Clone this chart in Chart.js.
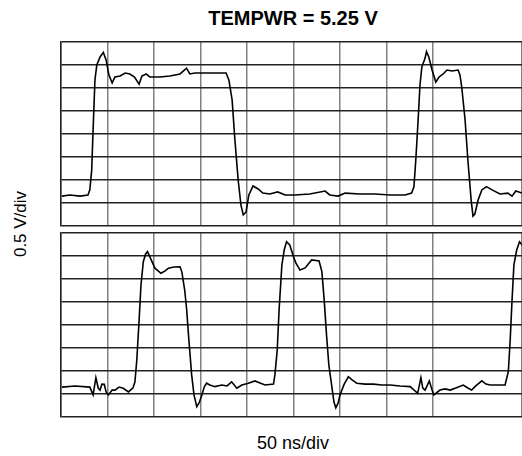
<!DOCTYPE html>
<html>
<head>
<meta charset="utf-8">
<script src="https://cdn.jsdelivr.net/npm/chart.js@4/dist/chart.umd.min.js"></script>
<style>
    body { margin: 0; background: #fff; font-family: "Liberation Sans", Arial, sans-serif; }
    #wrap { position: relative; width: 522px; height: 456px; overflow: hidden; }
    .panel { position: absolute; left: 60px; }
    #title { position: absolute; left: 0; width: 586px; top: 7px; text-align: center; font-weight: bold; font-size: 20px; color: #000; }
    #xlabel { position: absolute; left: 0; width: 586px; top: 433px; text-align: center; font-size: 18px; color: #000; }
    #ylabel { position: absolute; left: 21px; top: 224px; transform: translate(-50%, -50%) rotate(-90deg); font-size: 17px; color: #000; white-space: nowrap; }
</style>
</head>
<body>
<div id="wrap">
    <div id="title">TEMPWR = 5.25 V</div>
    <canvas id="topChart" class="panel" width="462" height="186" style="top:41px"></canvas>
    <canvas id="bottomChart" class="panel" width="462" height="186" style="top:232px"></canvas>
    <div id="ylabel">0.5 V/div</div>
    <div id="xlabel">50 ns/div</div>
</div>
<script>
// time in divisions (50 ns/div), voltage in divisions (0.5 V/div)
const topTime = [0.02, 0.19, 0.41, 0.58, 0.62, 0.66, 0.69, 0.73, 0.77, 0.84, 0.91, 0.97, 1.03, 1.10, 1.16, 1.27, 1.38, 1.48, 1.58, 1.68,
    1.74, 1.83, 1.91, 2.13, 2.34, 2.56, 2.70, 2.77, 2.88, 3.10, 3.31, 3.55, 3.61, 3.68, 3.74, 3.81, 3.87, 3.92, 3.98, 4.04,
    4.13, 4.24, 4.34, 4.49, 4.66, 4.82, 5.03, 5.35, 5.68, 5.78, 5.96, 6.11, 6.43, 6.75, 7.08, 7.40, 7.54, 7.59, 7.63, 7.68,
    7.72, 7.76, 7.83, 7.86, 7.91, 7.98, 8.06, 8.13, 8.22, 8.30, 8.41, 8.54, 8.58, 8.62, 8.69, 8.75, 8.82, 8.86, 8.90, 8.97,
    9.05, 9.15, 9.27, 9.44, 9.61, 9.70, 9.78, 9.91];
const topVolt = [1.30, 1.35, 1.30, 1.35, 1.57, 2.43, 4.17, 6.35, 7.00, 7.35, 7.55, 7.22, 6.57, 6.22, 6.48, 6.52, 6.65, 6.61, 6.48, 6.17,
    6.52, 6.61, 6.48, 6.48, 6.52, 6.61, 6.86, 6.61, 6.65, 6.65, 6.65, 6.65, 6.35, 5.48, 3.74, 2.00, 0.91, 0.48, 0.61, 1.35,
    1.74, 1.61, 1.43, 1.39, 1.48, 1.35, 1.35, 1.39, 1.52, 1.35, 1.30, 1.43, 1.39, 1.39, 1.35, 1.35, 1.43, 1.70, 2.87, 4.61,
    6.13, 6.91, 7.30, 7.58, 7.35, 6.78, 6.26, 6.48, 6.61, 6.78, 6.74, 6.78, 6.57, 6.00, 4.61, 2.87, 1.13, 0.43, 0.52, 1.13,
    1.57, 1.71, 1.57, 1.39, 1.43, 1.30, 1.52, 1.43];

const bottomTime = [0.02, 0.30, 0.62, 0.69, 0.75, 0.80, 0.84, 0.88, 0.93, 0.97, 1.02, 1.10, 1.16, 1.25, 1.34, 1.45, 1.55, 1.59, 1.63, 1.68,
    1.72, 1.77, 1.82, 1.86, 1.94, 2.02, 2.15, 2.24, 2.31, 2.43, 2.56, 2.60, 2.66, 2.70, 2.75, 2.81, 2.86, 2.92, 2.97, 3.03,
    3.08, 3.13, 3.20, 3.31, 3.46, 3.57, 3.67, 3.78, 3.89, 4.03, 4.17, 4.28, 4.39, 4.57, 4.60, 4.65, 4.69, 4.75, 4.80, 4.85,
    4.92, 5.00, 5.05, 5.14, 5.25, 5.39, 5.55, 5.61, 5.66, 5.71, 5.76, 5.82, 5.87, 5.91, 5.96, 6.00, 6.09, 6.18, 6.26, 6.36,
    6.54, 6.72, 6.90, 7.08, 7.29, 7.51, 7.67, 7.74, 7.78, 7.83, 7.92, 7.98, 8.02, 8.15, 8.26, 8.37, 8.49, 8.65, 8.75, 8.83,
    8.92, 9.05, 9.14, 9.23, 9.40, 9.55, 9.62, 9.66, 9.70, 9.74, 9.80, 9.86, 9.92];
const bottomVolt = [1.30, 1.35, 1.30, 0.96, 1.71, 1.26, 1.17, 1.43, 1.42, 1.09, 0.96, 1.17, 1.17, 1.30, 1.25, 1.09, 1.27, 1.53, 2.48, 4.22,
    5.74, 6.75, 7.09, 7.19, 6.83, 6.47, 6.25, 6.35, 6.47, 6.52, 6.53, 6.30, 5.52, 4.73, 3.35, 1.83, 0.96, 0.45, 0.61, 0.96,
    1.30, 1.47, 1.39, 1.32, 1.39, 1.35, 1.53, 1.25, 1.39, 1.47, 1.57, 1.48, 1.39, 1.43, 1.83, 2.91, 4.65, 6.61, 7.26, 7.62,
    7.48, 6.97, 6.70, 6.39, 6.48, 6.83, 6.78, 6.32, 5.09, 3.57, 2.26, 1.39, 0.65, 0.40, 0.61, 0.96, 1.43, 1.75, 1.61, 1.47,
    1.43, 1.43, 1.39, 1.39, 1.35, 1.32, 1.03, 1.71, 1.26, 1.17, 1.57, 1.17, 0.96, 1.17, 1.22, 1.17, 1.26, 1.39, 1.26, 1.17,
    1.35, 1.57, 1.43, 1.39, 1.39, 1.39, 1.97, 3.35, 5.09, 6.61, 7.26, 7.62, 7.48];

const xDivs = 461 / 46.5;   // screen cuts off the last division
const yDivs = 8;

function makeScope(canvasId, times, volts) {
    const points = times.map((t, i) => ({ x: t, y: volts[i] }));
    return new Chart(document.getElementById(canvasId), {
        type: 'line',
        data: {
            datasets: [{
                data: points,
                borderColor: '#000',
                borderWidth: 1.6,
                pointRadius: 0,
                tension: 0,
                fill: false
            }]
        },
        options: {
            responsive: false,
            animation: false,
            layout: { padding: { left: 1, top: 1, right: 0, bottom: 1 } },
            plugins: { legend: { display: false }, tooltip: { enabled: false } },
            scales: {
                x: {
                    type: 'linear',
                    min: 0,
                    max: xDivs,
                    ticks: { display: false, stepSize: 1 },
                    grid: { color: '#808080', lineWidth: 1.5, drawTicks: false },
                    border: { display: false }
                },
                y: {
                    type: 'linear',
                    min: 0,
                    max: yDivs,
                    ticks: { display: false, stepSize: 1 },
                    grid: { color: '#222', lineWidth: 1.4, drawTicks: false },
                    border: { display: true, color: '#222', width: 1.5 }
                }
            }
        }
    });
}

makeScope('topChart', topTime, topVolt);
makeScope('bottomChart', bottomTime, bottomVolt);
</script>
</body>
</html>
